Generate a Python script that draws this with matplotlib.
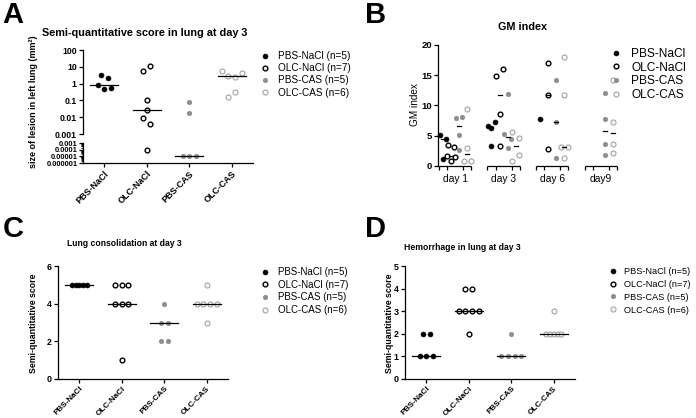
import numpy as np
import matplotlib
matplotlib.use("Agg")
import matplotlib.pyplot as plt

plt.rcParams['font.family'] = ['Liberation Sans', 'DejaVu Sans']

W, H = 696, 418

groups = ["PBS-NaCl", "OLC-NaCl", "PBS-CAS", "OLC-CAS"]
group_n = ["(n=5)", "(n=7)", "(n=5)", "(n=6)"]

# A: size of lesion (mm2), broken log axis at 0.001
lesion = [
    [3.1, 2.2, 0.8, 0.45, 0.55],
    [6.0, 10.7, 0.11, 0.026, 0.0085, 0.0037, 0.00008],
    [0.081, 0.019, 0.00001, 0.00001, 0.00001],
    [5.4, 3.0, 2.5, 4.3, 0.15, 0.33],
]
upper_ticks = [100, 10, 1, 0.1, 0.01, 0.001]
upper_labels = ["100", "10", "1", "0.1", "0.01", "0.001"]
lower_ticks = [0.001, 0.0001, 0.00001, 0.000001]
lower_labels = ["0.001", "0.0001", "0.00001", "0.000001"]

# B: GM index per day
days = ["day 1", "day 3", "day 6", "day9"]
gm = [
    [[5.1, 1.1, 4.4], [6.6, 6.3, 7.3, 3.3], [7.7], []],
    [[3.5, 3.2, 1.7, 0.9, 1.5], [14.9, 16.0, 8.6, 3.3], [17.1, 11.7, 2.8], []],
    [[8.0, 8.1, 5.2, 2.6], [5.3, 4.4, 11.9, 2.9], [14.2, 7.2, 1.3], [12.0, 7.8, 3.7, 1.9]],
    [[9.5, 3.0, 0.9, 0.9], [5.7, 4.7, 0.9, 1.9], [18.0, 11.7, 3.1, 3.1, 1.4], [14.2, 7.2, 3.7, 2.1]],
]

# C: lung consolidation score
consolidation = [
    [5, 5, 5, 5, 5],
    [5, 5, 5, 4, 4, 4, 1],
    [4, 3, 3, 2, 2],
    [5, 4, 4, 4, 4, 3],
]

# D: hemorrhage score
hemorrhage = [
    [2, 2, 1, 1, 1],
    [4, 4, 3, 3, 3, 3, 2],
    [2, 1, 1, 1, 1],
    [3, 2, 2, 2, 2, 2],
]

styles = [
    dict(marker='o', ms=3.5, mfc='black', mec='black', mew=0.5),
    dict(marker='o', ms=3.4, mfc='white', mec='black', mew=1.0),
    dict(marker='o', ms=3.2, mfc='#8e8e8e', mec='#8e8e8e', mew=0.5),
    dict(marker='o', ms=3.6, mfc='white', mec='#a2a2a2', mew=0.8),
]

fig = plt.figure(figsize=(W / 100, H / 100), dpi=100)


def box(left, top, right, bottom):
    return [left / W, 1 - bottom / H, (right - left) / W, (bottom - top) / H]


def style_axes(ax, size=6.5):
    for s in ['top', 'right']:
        ax.spines[s].set_visible(False)
    for s in ['left', 'bottom']:
        ax.spines[s].set_linewidth(0.9)
    ax.tick_params(width=0.9, length=3, labelsize=size, pad=1.5)
    for lab in ax.get_yticklabels() + ax.get_xticklabels():
        lab.set_fontweight('bold')


def spread(ax, xc, vals, full, cap, squeeze, thr=7.0):
    # GraphPad-like horizontal spreading of points lying close together
    vals = np.asarray(vals, float)
    n = len(vals)
    xs = np.full(n, float(xc))
    if n == 0:
        return xs
    ypx = ax.transData.transform(np.column_stack([xs, vals]))[:, 1]
    px_per_x = ax.transData.transform([[1, 0]])[0, 0] - ax.transData.transform([[0, 0]])[0, 0]
    order = np.argsort(-ypx, kind='stable')
    clusters = [[order[0]]]
    for i in order[1:]:
        if abs(ypx[clusters[-1][-1]] - ypx[i]) < thr:
            clusters[-1].append(i)
        else:
            clusters.append([i])
    for cl in clusters:
        cl = sorted(cl)
        k = len(cl)
        step = full if k <= cap else squeeze / (k - 1)
        for j, idx in enumerate(cl):
            xs[idx] = xc + (j - (k - 1) / 2) * step / px_per_x
    return xs


def legend(ax, x, y, labels, size, spacing=0.28):
    handles = [plt.Line2D([], [], ls='none', **st) for st in styles]
    leg = ax.legend(handles, labels, loc='upper left', bbox_to_anchor=(x / W, 1 - y / H),
                    bbox_transform=fig.transFigure, frameon=False, fontsize=size,
                    handlelength=1.0, handletextpad=0.8, labelspacing=spacing,
                    borderpad=0, borderaxespad=0)
    return leg


def letter(x, y, s):
    fig.text(x / W, 1 - y / H, s, fontsize=21, fontweight='bold', ha='left', va='top')


def title(x, y, s, size):
    fig.text(x / W, 1 - y / H, s, fontsize=size, fontweight='bold', ha='center', va='center')


def ylab(x, y, s, size, weight='bold'):
    fig.text(x / W, 1 - y / H, s, fontsize=size, fontweight=weight, rotation=90,
             ha='center', va='center')


def category_panel(ax, data, ylim, yticks, size):
    ax.set_xlim(-0.5, 3.5)
    ax.set_ylim(*ylim)
    ax.set_yticks(yticks)
    ax.set_xticks(range(4), groups, rotation=45, ha='right', rotation_mode='anchor')
    style_axes(ax, size)
    ax.tick_params(axis='x', labelsize=5.9, pad=1.2)
    for i, vals in enumerate(data):
        xs = spread(ax, i, vals, 6.7, 4, 15)
        ax.plot(xs, vals, ls='none', clip_on=False, zorder=3, **styles[i])
        ax.plot([i - 0.33, i + 0.33], [np.median(vals)] * 2, color='black', lw=0.9,
                zorder=4, clip_on=False)


# ---------------- A ----------------
axA = fig.add_axes(box(83, 50, 253, 134))
axA2 = fig.add_axes(box(83, 143, 253, 163))
for ax, lim, ticks, labels, size in [(axA, (0.001, 100), upper_ticks, upper_labels, 6.3),
                                     (axA2, (0.000001, 0.001), lower_ticks, lower_labels, 5.4)]:
    ax.set_yscale('log')
    ax.set_ylim(*lim)
    ax.set_xlim(-0.5, 3.5)
    ax.set_yticks(ticks, labels)
    style_axes(ax, size)
    ax.tick_params(axis='y', which='minor', length=1.8, width=0.6)
axA.spines['bottom'].set_visible(False)
axA.set_xticks([])
axA2.set_xticks(range(4), groups, rotation=45, ha='right', rotation_mode='anchor')
axA2.tick_params(axis='x', labelsize=6.5)
axA2.tick_params(axis='y', pad=1.0)
for lab in axA2.get_xticklabels():
    lab.set_fontweight('bold')

for i, vals in enumerate(lesion):
    vals = np.asarray(vals)
    med = np.median(vals)
    for ax, mask in [(axA, vals >= 0.001), (axA2, vals < 0.001)]:
        part = vals[mask]
        if len(part):
            xs = spread(ax, i, part, 6.7, 4, 15)
            ax.plot(xs, part, ls='none', clip_on=False, zorder=3, **styles[i])
    ax = axA if med >= 0.001 else axA2
    ax.plot([i - 0.33, i + 0.33], [med, med], color='black', lw=0.9, zorder=4, clip_on=False)

letter(2, 1, "A")
title(145, 33, "Semi-quantitative score in lung at day 3", 7.8)
ylab(34, 102, "size of lesion in left lung (mm²)", 6.5)
legend(axA, 260, 51, [f"{g} {n}" for g, n in zip(groups, group_n)], 7.2, spacing=0.22)

# ---------------- B ----------------
axB = fig.add_axes(box(438, 45, 617, 166))
axB.set_xlim(-0.6, 21.5)
axB.set_ylim(0, 20)
axB.set_yticks([0, 5, 10, 15, 20])
centers = [6 * g + 1.5 for g in range(len(days))]
axB.set_xticks(centers, days)
edges = [6 * g + k - 0.5 for g in range(len(days)) for k in range(5)]
axB.set_xticks(edges, minor=True)
style_axes(axB, 6.8)
axB.spines['bottom'].set_visible(False)
axB.tick_params(axis='x', which='major', length=0, pad=6, labelsize=7.4)
axB.tick_params(axis='x', which='minor', length=3, width=0.9)
for lab in axB.get_xticklabels():
    lab.set_fontweight('normal')
for g in range(len(days)):
    axB.plot([6 * g - 0.5, 6 * g + 3.5], [0, 0], color='black', lw=0.9,
             clip_on=False, solid_capstyle='butt')
for i in range(4):
    for g in range(len(days)):
        vals = gm[i][g]
        if not vals:
            continue
        xc = 6 * g + i
        xs = spread(axB, xc, vals, 6.7, 2, 7.6)
        axB.plot(xs, vals, ls='none', clip_on=False, zorder=3, **styles[i])
        axB.plot([xc - 0.25, xc + 0.25], [np.median(vals)] * 2, color='black', lw=0.9, zorder=4)

letter(365, 1, "B")
title(522, 27, "GM index", 7.8)
ylab(415, 105, "GM index", 7.2, weight='normal')
legend(axB, 610, 48, groups, 8.6, spacing=0.14)

# ---------------- C ----------------
axC = fig.add_axes(box(58, 266, 228, 379))
category_panel(axC, consolidation, (0, 6), [0, 2, 4, 6], 6.4)
letter(3, 215, "C")
title(124, 243, "Lung consolidation at day 3", 6.2)
ylab(33, 323, "Semi-quantitative score", 6.3)
legend(axC, 260, 267, [f"{g} {n}" for g, n in zip(groups, group_n)], 7.0)

# ---------------- D ----------------
axD = fig.add_axes(box(405, 266, 575, 379))
category_panel(axD, hemorrhage, (0, 5), [0, 1, 2, 3, 4, 5], 6.4)
letter(365, 215, "D")
title(462, 247, "Hemorrhage in lung at day 3", 6.2)
ylab(390, 323, "Semi-quantitative score", 6.3)
legend(axD, 608, 267, [f"{g} {n}" for g, n in zip(groups, group_n)], 6.6, spacing=0.42)

fig.savefig("out.png", dpi=100)
